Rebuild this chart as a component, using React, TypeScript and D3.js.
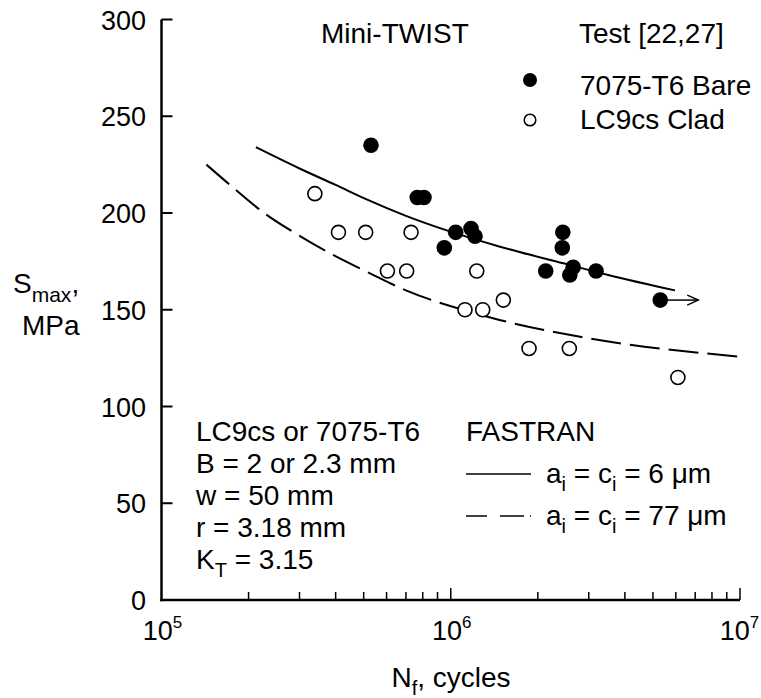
import React from "react";
import * as d3 from "d3";

const bareN = [5.3e5, 7.66e5, 8.08e5, 9.5e5, 1.04e6, 1.175e6, 1.213e6, 2.13e6, 2.43e6, 2.44e6, 2.58e6, 2.65e6, 3.18e6, 5.3e6];
const bareS = [235, 208, 208, 182, 190, 192, 188, 170, 182, 190, 168, 172, 170, 155];
const cladN = [3.39e5, 4.09e5, 5.08e5, 6.04e5, 7.04e5, 7.29e5, 1.12e6, 1.23e6, 1.29e6, 1.52e6, 1.865e6, 2.57e6, 6.1e6];
const cladS = [210, 190, 190, 170, 170, 190, 150, 170, 150, 155, 130, 130, 115];
const fast6N = [2.12e5, 3.0e5, 4.0e5, 5.12e5, 7.0e5, 9.68e5, 1.48e6, 2.45e6, 3.5e6, 5.96e6];
const fast6S = [234, 223, 214.5, 207, 198.5, 191, 182.6, 174, 168, 160];
const fast77N = [1.43e5, 1.725e5, 2.31e5, 2.97e5, 3.82e5, 5.26e5, 7.0e5, 1.1e6, 1.4e6, 2.8e6, 1e7];
const fast77S = [225, 214.5, 199, 188.6, 179.2, 168.8, 160, 150, 145.6, 136, 125.7];
const runoutN = [5.3e6];
const runoutS = [155];
const yTicks = [0, 50, 100, 150, 200, 250, 300];
const xDecades = [5, 6, 7];
const infoLines = ["LC9cs or 7075-T6", "B = 2 or 2.3 mm", "w = 50 mm", "r = 3.18 mm"];

const FONT = "'Liberation Sans', Arial, Helvetica, sans-serif";

export default function App() {
  const x = d3.scaleLog().domain([1e5, 1e7]).range([161.5, 740]);
  const y = d3.scaleLinear().domain([0, 300]).range([600, 19.5]);
  const line = d3
    .line<[number, number]>()
    .x((d) => x(d[0]))
    .y((d) => y(d[1]))
    .curve(d3.curveMonotoneX);
  const solid = line(fast6N.map((n, i) => [n, fast6S[i]]) as [number, number][]) || "";
  const dashed = line(fast77N.map((n, i) => [n, fast77S[i]]) as [number, number][]) || "";
  const xt = x.ticks();
  const fs = 28;

  return (
    <svg
      width={761}
      height={698}
      style={{ position: "absolute", left: 0, top: 0, background: "#fff" }}
      fontFamily={FONT}
    >
      <rect width={761} height={698} fill="#fff" />
      {/* axes */}
      <line x1={x(1e5)} x2={x(1e5)} y1={y(300)} y2={y(0) + 1.25} stroke="#000" strokeWidth={2.5} />
      <line x1={x(1e5) - 1.25} x2={x(1e7)} y1={y(0)} y2={y(0)} stroke="#000" strokeWidth={2.5} />
      {yTicks.map((t) => (
        <g key={t}>
          <line x1={x(1e5)} x2={x(1e5) + 11} y1={y(t)} y2={y(t)} stroke="#000" strokeWidth={2} />
          <text x={146} y={y(t) + 10} textAnchor="end" fontSize={27}>
            {t}
          </text>
        </g>
      ))}
      {xt.map((t, i) => {
        const major = Math.abs(Math.log10(t) - Math.round(Math.log10(t))) < 1e-6;
        if (t === 1e5) return null;
        return (
          <line key={i} x1={x(t)} x2={x(t)} y1={y(0)} y2={y(0) - (major ? 12 : 8)} stroke="#000" strokeWidth={1.5} />
        );
      })}
      {xDecades.map((e) => (
        <text key={e} x={x(Math.pow(10, e)) + (e === 7 ? -0.5 : 1)} y={640} textAnchor="middle" fontSize={27}>
          10
          <tspan fontSize={17} dy={-12}>
            {e}
          </tspan>
        </text>
      ))}
      <text x={451} y={687} textAnchor="middle" fontSize={fs}>
        N<tspan fontSize={20} dy={8}>f</tspan>
        <tspan dy={-8}>, cycles</tspan>
      </text>
      <text x={13} y={293} fontSize={fs}>
        S<tspan fontSize={21} dy={9}>max</tspan>
        <tspan dy={-9}>,</tspan>
      </text>
      <text x={22} y={335} fontSize={fs}>
        MPa
      </text>

      {/* curves */}
      <path d={solid} fill="none" stroke="#000" strokeWidth={2} />
      <path d={dashed} fill="none" stroke="#000" strokeWidth={2} strokeDasharray="30,9" />

      {/* data */}
      {cladN.map((n, i) => (
        <circle key={"c" + i} cx={x(n)} cy={y(cladS[i])} r={7} fill="#fff" stroke="#000" strokeWidth={1.6} />
      ))}
      {bareN.map((n, i) => (
        <circle key={"b" + i} cx={x(n)} cy={y(bareS[i])} r={7.8} fill="#000" />
      ))}
      {runoutN.map((n, i) => {
        const cx = x(n);
        const cy = y(runoutS[i]);
        return (
          <g key={"r" + i} stroke="#000" strokeWidth={1.5} fill="none">
            <line x1={cx + 7} x2={cx + 38} y1={cy} y2={cy} />
            <polyline points={`${cx + 27},${cy - 5} ${cx + 38},${cy} ${cx + 27},${cy + 5}`} />
          </g>
        );
      })}

      {/* titles and legend */}
      <text x={321} y={43} fontSize={fs}>
        Mini-TWIST
      </text>
      <text x={579} y={43} fontSize={fs}>
        Test [22,27]
      </text>
      <circle cx={530} cy={80} r={7} fill="#000" />
      <text x={580} y={95} fontSize={fs}>
        7075-T6 Bare
      </text>
      <circle cx={530} cy={120} r={5.8} fill="#fff" stroke="#000" strokeWidth={1.5} />
      <text x={580} y={129} fontSize={fs}>
        LC9cs Clad
      </text>

      {infoLines.map((s, i) => (
        <text key={i} x={196} y={441 + i * 32} fontSize={fs}>
          {s}
        </text>
      ))}
      <text x={196} y={569} fontSize={fs}>
        K<tspan fontSize={20} dy={8}>T</tspan>
        <tspan dy={-8}> = 3.15</tspan>
      </text>

      <text x={466} y={441} fontSize={fs}>
        FASTRAN
      </text>
      <line x1={466} x2={531} y1={474} y2={474} stroke="#000" strokeWidth={1.5} />
      <text x={546} y={483} fontSize={fs}>
        a<tspan fontSize={20} dy={8}>i</tspan>
        <tspan dy={-8}> = c</tspan>
        <tspan fontSize={20} dy={8}>i</tspan>
        <tspan dy={-8}> = 6 μm</tspan>
      </text>
      <line x1={466} x2={532} y1={516} y2={516} stroke="#000" strokeWidth={1.5} strokeDasharray="21,13,24,6,1,10" />
      <text x={546} y={525} fontSize={fs}>
        a<tspan fontSize={20} dy={8}>i</tspan>
        <tspan dy={-8}> = c</tspan>
        <tspan fontSize={20} dy={8}>i</tspan>
        <tspan dy={-8}> = 77 μm</tspan>
      </text>
    </svg>
  );
}
